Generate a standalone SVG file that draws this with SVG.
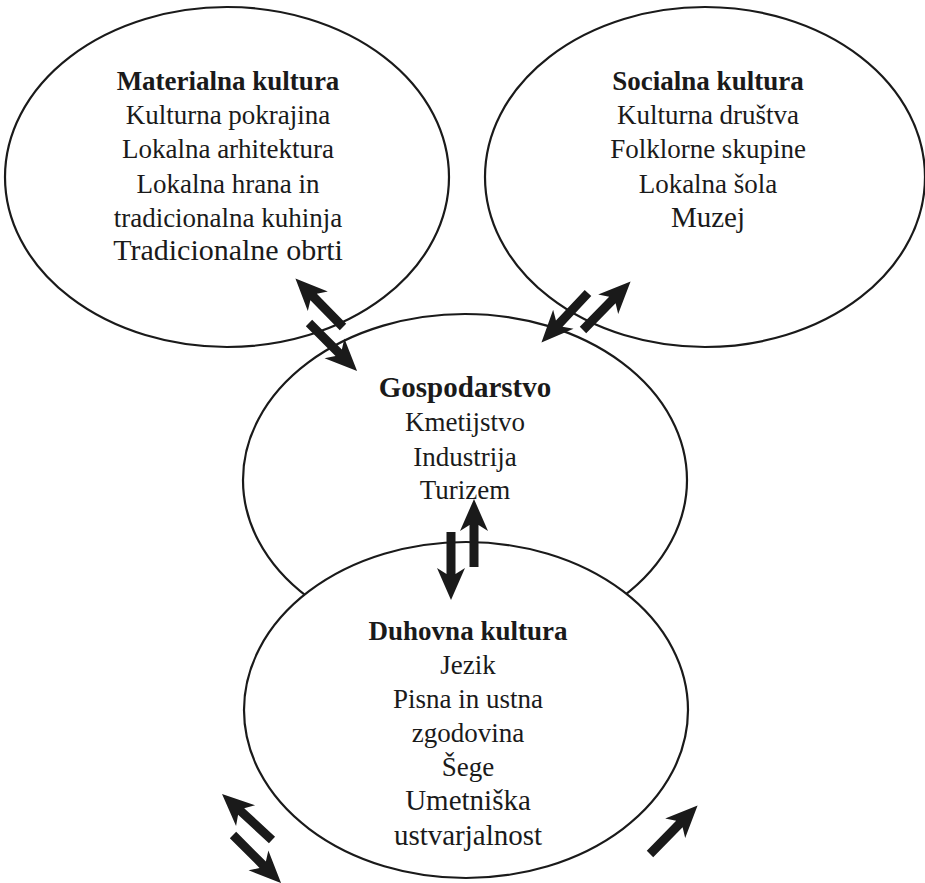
<svg xmlns="http://www.w3.org/2000/svg" xmlns:xlink="http://www.w3.org/1999/xlink" width="925" height="883" viewBox="0 0 925 883">
<style>
.ell{fill:none;stroke:#1a1a1a;stroke-width:2.2}
.ellw{fill:#fff;stroke:#1a1a1a;stroke-width:2.2}
text{font-family:"Liberation Serif","Times New Roman",serif;font-size:27px;fill:#1a1a1a;text-anchor:middle}
.b{font-weight:bold}
.big{font-size:29px}
.big2{font-size:30px}
.arr{fill:#1a1a1a}
</style>
<defs>
<path id="arrow" class="arr" d="M0,-4.5 L42,-4.5 L36,-14 L68,0 L36,14 L42,4.5 L0,4.5 Z"/>
</defs>
<rect width="925" height="883" fill="#fff"/>
<g id="node-materialna">
<ellipse class="ell" cx="227" cy="177" rx="222" ry="170"/>
<text class="b" x="228" y="90">Materialna kultura</text>
<text x="228" y="124">Kulturna pokrajina</text>
<text x="228" y="158">Lokalna arhitektura</text>
<text x="228" y="193">Lokalna hrana in</text>
<text x="228" y="227">tradicionalna kuhinja</text>
<text class="big2" x="228" y="260">Tradicionalne obrti</text>
</g>
<g id="node-socialna">
<ellipse class="ell" cx="705" cy="177" rx="220" ry="170"/>
<text class="b" x="708" y="90">Socialna kultura</text>
<text x="708" y="124">Kulturna društva</text>
<text x="708" y="158">Folklorne skupine</text>
<text x="708" y="193">Lokalna šola</text>
<text class="big" x="708" y="227">Muzej</text>
</g>
<g id="node-gospodarstvo">
<ellipse class="ell" cx="465" cy="480" rx="222" ry="166"/>
<text class="b" x="465" y="397" style="font-size:29px">Gospodarstvo</text>
<text x="465" y="431">Kmetijstvo</text>
<text x="465" y="466">Industrija</text>
<text x="465" y="499">Turizem</text>
</g>
<g id="node-duhovna">
<ellipse class="ellw" cx="466" cy="710" rx="222" ry="168"/>
<text class="b" x="468" y="640">Duhovna kultura</text>
<text x="468" y="674">Jezik</text>
<text x="468" y="708">Pisna in ustna</text>
<text x="468" y="742">zgodovina</text>
<text x="468" y="776">Šege</text>
<text class="big" x="468" y="810">Umetniška</text>
<text class="big" x="468" y="845">ustvarjalnost</text>
</g>
<g id="connectors">
<use xlink:href="#arrow" transform="translate(343,327) rotate(-134.4)"/>
<use xlink:href="#arrow" transform="translate(309,323) rotate(45)"/>
<use xlink:href="#arrow" transform="translate(588,293) rotate(133.2)"/>
<use xlink:href="#arrow" transform="translate(583,330) rotate(-45.6)"/>
<use xlink:href="#arrow" transform="translate(451,532) rotate(90)"/>
<use xlink:href="#arrow" transform="translate(474,567) rotate(-90)"/>
<use xlink:href="#arrow" transform="translate(272,840) rotate(-137.3)"/>
<use xlink:href="#arrow" transform="translate(233,835) rotate(45)"/>
<use xlink:href="#arrow" transform="translate(650,854) rotate(-45.6)"/>
</g>
</svg>
